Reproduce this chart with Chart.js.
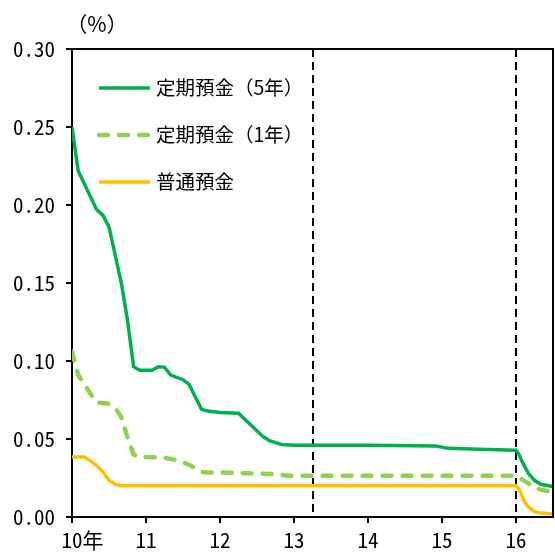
<!DOCTYPE html>
<html>
<head>
<meta charset="utf-8">
<script src="https://cdn.jsdelivr.net/npm/chart.js"></script>
<style>
  html, body { margin: 0; padding: 0; background: #fff; }
</style>
</head>
<body>
<canvas id="rates" width="555" height="554"></canvas>
<script>
// 預金金利の推移（%）
const x5 = [10.0, 10.083, 10.333, 10.417, 10.5, 10.667, 10.75, 10.833, 10.917, 11.083, 11.167, 11.25,
            11.333, 11.5, 11.583, 11.75, 11.833, 12.0, 12.25, 12.417, 12.583, 12.667, 12.833, 13.0,
            14.0, 14.917, 15.083, 15.5, 16.0, 16.042, 16.083, 16.167, 16.25, 16.333, 16.5];
const rate5 = [0.250, 0.222, 0.197, 0.1935, 0.186, 0.150, 0.126, 0.0963, 0.094, 0.094, 0.0963, 0.096,
               0.091, 0.088, 0.085, 0.069, 0.068, 0.067, 0.0665, 0.059, 0.0515, 0.049, 0.0465, 0.046,
               0.046, 0.0455, 0.044, 0.0435, 0.0428, 0.040, 0.0355, 0.028, 0.0235, 0.021, 0.0195];

const x1 = [10.0, 10.083, 10.167, 10.25, 10.333, 10.5, 10.583, 10.667, 10.75, 10.833, 10.917, 11.0,
            11.25, 11.417, 11.583, 11.75, 11.833, 12.0, 12.75, 12.917, 16.0, 16.083, 16.167, 16.25, 16.333, 16.5];
const rate1 = [0.106, 0.091, 0.085, 0.079, 0.0735, 0.0725, 0.070, 0.064, 0.051, 0.040, 0.0385, 0.0385,
               0.038, 0.0365, 0.0335, 0.029, 0.0285, 0.0285, 0.0275, 0.0265, 0.0265, 0.024, 0.0215, 0.019, 0.0175, 0.016];

const xN = [10.0, 10.167, 10.25, 10.333, 10.417, 10.5, 10.583, 10.667, 16.0, 16.042, 16.083, 16.125,
            16.167, 16.25, 16.333, 16.5];
const rateN = [0.0385, 0.0385, 0.036, 0.033, 0.029, 0.0235, 0.021, 0.020, 0.020, 0.018, 0.0133, 0.009,
               0.0065, 0.0035, 0.0025, 0.002];

const seriesNames = ['定期預金（5年）', '定期預金（1年）', '普通預金'];
const markerYears = [13.25, 16.0];
const unitLabel = '（%）';

const tickFont = { family: "'Noto Sans Mono CJK JP', 'Noto Sans CJK JP', monospace", size: 21 };
const textFont = "19.5px 'Noto Sans CJK JP', sans-serif";

const toPoints = (xs, ys) => xs.map((x, i) => ({ x: x, y: ys[i] }));

const extras = {
  id: 'extras',
  beforeDatasetsDraw(chart) {
    const ctx = chart.ctx, a = chart.chartArea, sx = chart.scales.x;
    ctx.save();
    ctx.strokeStyle = '#000';
    ctx.lineWidth = 2;
    ctx.setLineDash([8, 5]);
    markerYears.forEach(v => {
      const px = Math.round(sx.getPixelForValue(v));
      ctx.beginPath();
      ctx.moveTo(px, a.top);
      ctx.lineTo(px, a.bottom);
      ctx.stroke();
    });
    ctx.restore();
  },
  afterDraw(chart) {
    const ctx = chart.ctx, a = chart.chartArea;
    ctx.save();
    // top / right frame
    ctx.strokeStyle = '#000';
    ctx.lineWidth = 2;
    ctx.beginPath();
    ctx.moveTo(a.left, a.top);
    ctx.lineTo(a.right, a.top);
    ctx.lineTo(a.right, a.bottom);
    ctx.stroke();

    // unit
    ctx.fillStyle = '#000';
    ctx.font = "21px 'Noto Sans CJK JP', sans-serif";
    ctx.textAlign = 'center';
    ctx.textBaseline = 'middle';
    ctx.fillText(unitLabel, a.left + 25, 24);

    // legend
    ctx.font = textFont;
    ctx.textAlign = 'left';
    chart.data.datasets.forEach((ds, i) => {
      const y = a.top + 39 + i * 47;
      ctx.strokeStyle = ds.borderColor;
      ctx.lineWidth = ds.borderWidth;
      ctx.lineCap = ds.borderCapStyle || 'butt';
      ctx.setLineDash(ds.borderDash || []);
      ctx.beginPath();
      ctx.moveTo(a.left + 27, y);
      ctx.lineTo(a.left + 78, y);
      ctx.stroke();
      ctx.setLineDash([]);
      ctx.fillStyle = '#000';
      ctx.fillText(ds.label, a.left + 84, y);
    });
    ctx.restore();
  }
};

new Chart(document.getElementById('rates'), {
  type: 'line',
  data: {
    datasets: [
      {
        label: seriesNames[0],
        data: toPoints(x5, rate5),
        borderColor: '#00B050',
        borderWidth: 3.5,
        pointRadius: 0,
        tension: 0
      },
      {
        label: seriesNames[1],
        data: toPoints(x1, rate1),
        borderColor: '#92D050',
        borderWidth: 4.5,
        borderDash: [9, 11],
        borderCapStyle: 'round',
        pointRadius: 0,
        tension: 0
      },
      {
        label: seriesNames[2],
        data: toPoints(xN, rateN),
        borderColor: '#FFC000',
        borderWidth: 3.5,
        pointRadius: 0,
        tension: 0
      }
    ]
  },
  options: {
    responsive: false,
    animation: false,
    layout: { padding: { top: 49, right: 2, left: 0, bottom: 0 } },
    plugins: {
      legend: { display: false },
      tooltip: { enabled: false }
    },
    scales: {
      x: {
        type: 'linear',
        min: 10,
        max: 16.5,
        afterBuildTicks: s => { s.ticks = s.ticks.filter(t => Math.abs(t.value - Math.round(t.value)) < 1e-9); },
        afterFit: s => { s.height = 37; },
        ticks: {
          stepSize: 1,
          includeBounds: false,
          autoSkip: false,
          maxRotation: 0,
          color: '#000',
          font: tickFont,
          padding: 4,
          callback: v => v === 10 ? '\u300010年' : String(v)
        },
        grid: { drawOnChartArea: false, drawTicks: true, tickLength: 6, color: '#000', lineWidth: 2 },
        border: { display: true, color: '#000', width: 2 }
      },
      y: {
        min: 0,
        max: 0.3,
        afterFit: s => { s.width = 72; },
        ticks: {
          stepSize: 0.05,
          color: '#000',
          font: tickFont,
          padding: 11,
          callback: v => v.toFixed(2)
        },
        grid: { drawOnChartArea: false, drawTicks: true, tickLength: 6, color: '#000', lineWidth: 2 },
        border: { display: true, color: '#000', width: 2 }
      }
    }
  },
  plugins: [extras]
});
</script>
</body>
</html>
